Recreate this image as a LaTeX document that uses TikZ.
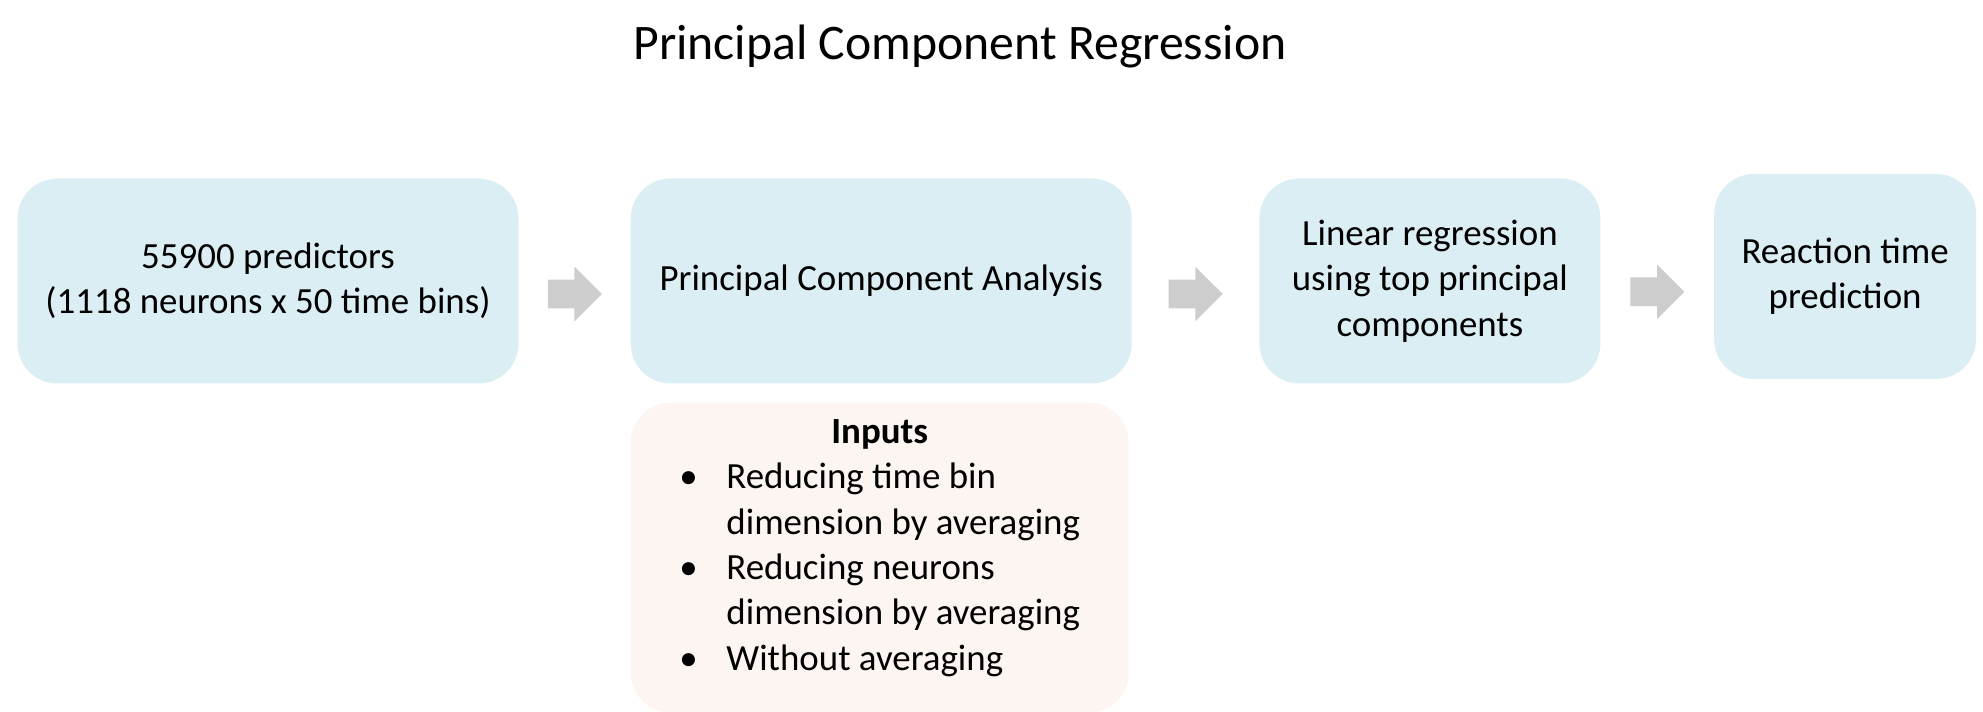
\documentclass[tikz,border=0pt]{standalone}
\usepackage{fontspec}
\setmainfont{Carlito}
\usepackage{xcolor}
\usepackage{tikz}
\usetikzlibrary{shapes, arrows, calc, positioning}

\definecolor{boxblue}{HTML}{DAEEF3}
\definecolor{inpink}{HTML}{FDF5F2}
\definecolor{arrowgray}{HTML}{CDCDCD}

\begin{document}
\begin{tikzpicture}[node distance=2.23cm]
    % Styles
    \tikzstyle{block} = [rectangle, fill=boxblue, align=center, rounded corners=0.8cm, minimum height=4.1cm, inner sep=0pt, font=\fontsize{21}{25.8}\selectfont]
    \tikzstyle{inbox} = [rectangle, fill=inpink, align=center, rounded corners=0.8cm, minimum width=9.96cm, minimum height=6.2cm, inner sep=0pt, font=\fontsize{21}{25.8}\selectfont]
    \tikzstyle{flowarrow} = [single arrow, fill=arrowgray, inner xsep=0pt, inner ysep=0.28cm, single arrow head extend=0.26cm, single arrow tip angle=90, minimum height=1.08cm, xshift=-0.14cm, yshift=-0.26cm]

    \useasboundingbox (0,0) rectangle (39.66,-14.24);

    % Nodes
    \node [font=\fontsize{28.3}{34}\selectfont] (title) at (19.2,-0.94) {Principal Component Regression};
    \node [block, minimum width=10.02cm] (pred) at (5.36,-5.62) {55900 predictors\\(1118 neurons x 50 time bins)};
    \node [block, minimum width=10.02cm, right=of pred] (pca) {Principal Component Analysis};
    \node [block, minimum width=6.82cm, right=2.54cm of pca] (linreg) {Linear regression\\using top principal\\components};
    \node [block, minimum width=5.24cm, right=2.26cm of linreg, yshift=0.09cm] (react) {Reaction time\\prediction};
    \node [inbox, below=0.37cm of pca, xshift=-0.03cm] (inp) {%
        \begin{tabular}{@{}p{0.94cm}@{}l@{}}
            \multicolumn{2}{c}{\textbf{Inputs}}\\
            \textbullet & Reducing time bin\\
                        & dimension by averaging\\
            \textbullet & Reducing neurons\\
                        & dimension by averaging\\
            \textbullet & Without averaging\\[0.4cm]
        \end{tabular}};

    % Paths
    \path (pred.east) -- node [flowarrow] {} (pca.west);
    \path (pca.east) -- node [flowarrow] {} (linreg.west);
    \path (linreg.east) -- node [flowarrow] {} (react.west);

\end{tikzpicture}
\end{document}
